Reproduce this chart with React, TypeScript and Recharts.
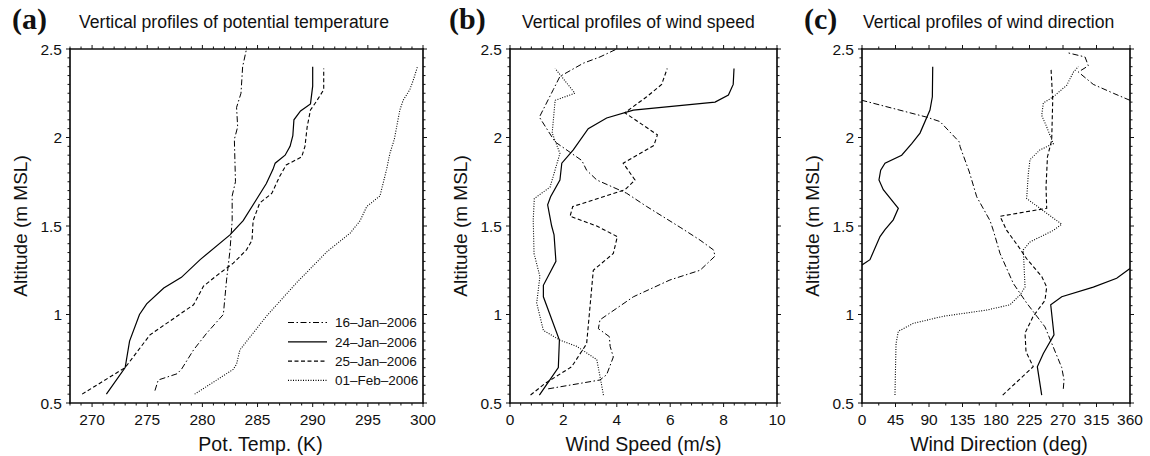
import React from 'react';
import { ScatterChart, Scatter, XAxis, YAxis, Legend } from 'recharts';

// [value, altitude] pairs, one list per sounding

// (a) potential temperature, K
const theta16Jan: [number, number][] = [
  [275.7, 0.57], [276.0, 0.63], [277.7, 0.665], [278.1, 0.69], [279.2, 0.8], [280.4, 0.895],
  [281.9, 1.0], [282.2, 1.2], [282.5, 1.36], [282.7, 1.53], [282.7, 1.67], [283.0, 1.75],
  [282.9, 1.99], [283.2, 2.06], [283.1, 2.17], [283.5, 2.25], [283.65, 2.4], [284.0, 2.5],
];
const theta24Jan: [number, number][] = [
  [271.3, 0.55], [273.0, 0.7], [273.4, 0.85], [274.3, 1.0], [274.95, 1.06], [276.5, 1.15],
  [278.1, 1.21], [279.8, 1.31], [282.5, 1.45], [283.7, 1.53], [284.9, 1.65], [285.8, 1.74],
  [286.4, 1.82], [286.6, 1.855], [287.5, 1.9], [287.95, 1.95], [288.2, 2.01], [288.3, 2.1],
  [288.9, 2.15], [289.8, 2.19], [290.0, 2.29], [290.0, 2.4],
];
const theta25Jan: [number, number][] = [
  [269.1, 0.55], [273.0, 0.7], [275.25, 0.885], [279.2, 1.055], [280.1, 1.16], [281.3, 1.22],
  [282.8, 1.29], [284.0, 1.365], [284.5, 1.42], [284.6, 1.53], [285.2, 1.63], [286.3, 1.685],
  [287.0, 1.78], [287.6, 1.845], [289.0, 1.89], [289.3, 1.95], [289.5, 2.06], [289.8, 2.155],
  [290.4, 2.21], [291.0, 2.27], [291.0, 2.39],
];
const theta01Feb: [number, number][] = [
  [279.3, 0.55], [282.8, 0.69], [283.1, 0.72], [283.4, 0.8], [285.8, 0.99], [288.55, 1.18],
  [291.3, 1.355], [293.4, 1.46], [294.3, 1.53], [294.9, 1.61], [296.1, 1.67], [296.7, 1.82],
  [297.0, 1.91], [297.4, 1.99], [297.9, 2.155], [298.2, 2.21], [298.8, 2.27], [299.1, 2.32],
  [299.5, 2.4],
];

// (b) wind speed, m/s
const speed16Jan: [number, number][] = [
  [1.43, 0.58], [3.37, 0.63], [3.62, 0.66], [3.87, 0.76], [3.75, 0.82], [3.72, 0.875],
  [3.31, 0.92], [3.37, 0.97], [4.62, 1.1], [5.99, 1.195], [7.12, 1.25], [7.68, 1.33],
  [7.62, 1.365], [7.12, 1.42], [6.4, 1.49], [5.12, 1.61], [4.37, 1.685], [3.25, 1.76],
  [2.87, 1.815], [2.69, 1.87], [1.69, 1.975], [1.1, 2.115], [1.62, 2.27], [1.87, 2.345],
  [2.75, 2.42], [3.37, 2.455], [4.0, 2.5],
];
const speed24Jan: [number, number][] = [
  [1.1, 0.545], [1.81, 0.7], [1.85, 0.855], [1.25, 1.1], [1.25, 1.165], [1.72, 1.3],
  [1.65, 1.45], [1.56, 1.5], [1.41, 1.62], [1.52, 1.665], [1.87, 1.76], [1.94, 1.855],
  [2.37, 1.93], [2.93, 2.05], [3.62, 2.11], [4.62, 2.155], [7.68, 2.2], [8.18, 2.24],
  [8.36, 2.3], [8.39, 2.39],
];
const speed25Jan: [number, number][] = [
  [0.77, 0.545], [1.31, 0.61], [2.31, 0.705], [2.87, 0.835], [2.97, 1.0], [3.12, 1.25],
  [3.87, 1.345], [4.02, 1.44], [3.25, 1.5], [2.25, 1.555], [2.35, 1.61], [4.31, 1.705],
  [4.68, 1.76], [4.24, 1.855], [5.39, 1.955], [5.52, 2.015], [4.3, 2.14], [5.12, 2.23],
  [5.68, 2.3], [5.89, 2.39],
];
const speed01Feb: [number, number][] = [
  [3.5, 0.545], [3.37, 0.65], [3.25, 0.745], [2.5, 0.82], [1.87, 0.855], [1.25, 0.91],
  [1.0, 1.065], [1.12, 1.215], [0.9, 1.345], [0.87, 1.535], [0.91, 1.655], [1.5, 1.72],
  [1.87, 1.91], [1.58, 2.025], [1.69, 2.21], [2.43, 2.25], [1.69, 2.39],
];

// (c) wind direction, deg (profiles that wrap past 360 are split in two)
const dir16JanLow: [number, number][] = [
  [270.4, 0.58], [271.4, 0.63], [268.3, 0.7], [245.8, 0.93], [221.2, 1.065], [203.3, 1.175],
  [185.4, 1.345], [176.4, 1.475], [172, 1.53], [154.1, 1.665], [144.2, 1.805], [131.6, 1.95],
  [130.7, 1.975], [104.8, 2.09], [86.9, 2.115], [0, 2.21],
];
const dir16JanHigh: [number, number][] = [
  [360, 2.21], [337.6, 2.25], [310.7, 2.3], [290.6, 2.37], [304, 2.405], [299.6, 2.455], [275, 2.48],
];
const dir24JanLow: [number, number][] = [
  [241.4, 0.545], [235.5, 0.705], [243.6, 0.78], [257.9, 0.885], [253.5, 1.055], [268.3, 1.1],
  [310.7, 1.155], [342.1, 1.205], [360, 1.26],
];
const dir24JanHigh: [number, number][] = [
  [0, 1.28], [10.7, 1.31], [24.2, 1.44], [30.9, 1.48], [42, 1.535], [48.8, 1.6], [28.6, 1.705],
  [22.8, 1.76], [25.1, 1.815], [30.9, 1.855], [53.3, 1.9], [66.8, 1.965], [77.9, 2.025],
  [91.3, 2.155], [94.5, 2.23], [95, 2.4],
];
const dir25Jan: [number, number][] = [
  [189, 0.545], [230, 0.705], [220.3, 0.79], [219, 0.895], [230, 0.99], [245.8, 1.08],
  [248.1, 1.155], [241.4, 1.215], [221.2, 1.315], [210, 1.385], [194.4, 1.475], [185.4, 1.555],
  [248.1, 1.6], [247.2, 1.72], [249.1, 1.89], [254.8, 1.985], [256.2, 2.21], [253.9, 2.39],
];
const dir01Feb: [number, number][] = [
  [44.3, 0.545], [45.7, 0.835], [48.8, 0.905], [68.9, 0.95], [109.2, 0.99], [167.5, 1.025],
  [198.8, 1.055], [212.2, 1.11], [219, 1.155], [216.7, 1.365], [225.7, 1.41], [257, 1.475],
  [268.3, 1.51], [221.2, 1.655], [223.4, 1.795], [225.7, 1.875], [239, 1.93], [257, 1.965],
  [248.1, 2.06], [241.4, 2.125], [243.6, 2.195], [257, 2.23], [275, 2.295], [284, 2.37], [290.6, 2.4],
];

const dates = ['16\u2013Jan\u20132006', '24\u2013Jan\u20132006', '25\u2013Jan\u20132006', '01\u2013Feb\u20132006'];

// axis ticks: labelled majors, unlabelled minors in between
const altMajor = [0.5, 1, 1.5, 2, 2.5];
const thetaMajor = [270, 275, 280, 285, 290, 295, 300];
const speedMajor = [0, 2, 4, 6, 8, 10];
const dirMajor = [0, 45, 90, 135, 180, 225, 270, 315, 360];

const steps = (from: number, to: number, step: number) => {
  const out: number[] = [];
  for (let i = 0; from + i * step <= to + 1e-9; i++) out.push(Math.round((from + i * step) * 1000) / 1000);
  return out;
};

const STYLE: Record<string, { dash?: string; width: number }> = {
  dashdot: { dash: '6 2.5 1.5 2.5', width: 1 },
  solid: { width: 1.2 },
  dashed: { dash: '4 2.5', width: 1.1 },
  dotted: { dash: '1 1.5', width: 1.1 },
};
const LEGEND_STYLES = ['dashdot', 'solid', 'dashed', 'dotted'];

const H = 456;
const PLOT_TOP = 49;
const PLOT_BOTTOM = 403;
const SANS = '"Liberation Sans", Arial, Helvetica, sans-serif';
const INK = '#111';

const toPoints = (rows: [number, number][]) => rows.map(([v, alt]) => ({ v, alt }));
const NoMark = () => <g />;

const fmt = (v: number) => String(Math.round(v * 100) / 100);

const makeTick = (side: 'top' | 'bottom' | 'left' | 'right', majors: number[], labelled: boolean) =>
  (props: any) => {
    const { x, y, payload } = props;
    const v = payload.value;
    const isMajor = majors.some((m) => Math.abs(m - v) < 1e-6);
    const len = isMajor ? 4 : 2.5;
    let line;
    if (side === 'bottom') line = <line x1={x} x2={x} y1={y} y2={y + len} stroke={INK} strokeWidth={1} />;
    else if (side === 'top') line = <line x1={x} x2={x} y1={y} y2={y - len} stroke={INK} strokeWidth={1} />;
    else if (side === 'left') line = <line x1={x} x2={x - len} y1={y} y2={y} stroke={INK} strokeWidth={1} />;
    else line = <line x1={x} x2={x + len} y1={y} y2={y} stroke={INK} strokeWidth={1} />;
    let label = null;
    if (labelled && isMajor) {
      if (side === 'bottom')
        label = (
          <text x={x} y={y + 22} textAnchor="middle" fontSize={15.5} fontFamily={SANS} fill={INK}>
            {fmt(v)}
          </text>
        );
      else if (side === 'left')
        label = (
          <text x={x - 8} y={y} dy="0.36em" textAnchor="end" fontSize={15.5} fontFamily={SANS} fill={INK}>
            {fmt(v)}
          </text>
        );
    }
    return (
      <g>
        {line}
        {label}
      </g>
    );
  };

type Series = { rows: [number, number][]; style: string };

interface PanelProps {
  left: number;
  leftW: number;
  plotW: number;
  rightW: number;
  domain: [number, number];
  majors: number[];
  minorStep: number;
  xLabel: string;
  xLabelShift?: number;
  series: Series[];
  legend?: boolean;
}

const AXIS = { stroke: INK, strokeWidth: 1.7, strokeLinecap: 'square' as const };

const renderLegend = () => (
  <svg width={150} height={80} style={{ display: 'block' }}>
    {dates.map((d, i) => {
      const s = STYLE[LEGEND_STYLES[i]];
      const cy = 10.5 + i * 19.3;
      return (
        <g key={d}>
          <line x1={2} x2={41} y1={cy} y2={cy} stroke="#000" strokeWidth={s.width} strokeDasharray={s.dash} />
          <text x={49} y={cy} dy="0.36em" fontSize={13.5} fontFamily={SANS} fill={INK}>
            {d}
          </text>
        </g>
      );
    })}
  </svg>
);

const ProfilePanel = ({ left, leftW, plotW, rightW, domain, majors, minorStep, xLabel, xLabelShift = 0, series, legend }: PanelProps) => {
  const width = leftW + plotW + rightW;
  const xTicks = steps(domain[0], domain[1], minorStep);
  const yTicks = steps(0.5, 2.5, 0.05);
  return (
    <div style={{ position: 'absolute', left, top: 0 }}>
      <ScatterChart width={width} height={H} margin={{ top: 0, right: 0, bottom: 0, left: 0 }}>
        <XAxis
          xAxisId="b"
          type="number"
          dataKey="v"
          domain={domain}
          allowDataOverflow
          ticks={xTicks}
          interval={0}
          tickLine={false}
          tickSize={0}
          tickMargin={0}
          axisLine={AXIS}
          tick={makeTick('bottom', majors, true)}
          height={H - PLOT_BOTTOM}
          label={{
            content: () => (
              <text x={leftW + plotW / 2 + xLabelShift} y={PLOT_BOTTOM + 48} textAnchor="middle" fontSize={19.5} fontFamily={SANS} fill={INK}>
                {xLabel}
              </text>
            ),
          }}
        />
        <XAxis
          xAxisId="t"
          orientation="top"
          type="number"
          dataKey="v"
          domain={domain}
          allowDataOverflow
          ticks={xTicks}
          interval={0}
          tickLine={false}
          tickSize={0}
          tickMargin={0}
          axisLine={AXIS}
          tick={makeTick('top', majors, false)}
          height={PLOT_TOP}
        />
        <YAxis
          yAxisId="l"
          type="number"
          dataKey="alt"
          domain={[0.5, 2.5]}
          allowDataOverflow
          ticks={yTicks}
          interval={0}
          tickLine={false}
          tickSize={0}
          tickMargin={0}
          axisLine={AXIS}
          tick={makeTick('left', altMajor, true)}
          width={leftW}
          label={{
            content: () => {
              const cx = leftW - 43;
              const cy = (PLOT_TOP + PLOT_BOTTOM) / 2;
              return (
                <text x={cx} y={cy} transform={`rotate(-90 ${cx} ${cy})`} textAnchor="middle" fontSize={19} fontFamily={SANS} fill={INK}>
                  Altitude (m MSL)
                </text>
              );
            },
          }}
        />
        <YAxis
          yAxisId="r"
          orientation="right"
          type="number"
          dataKey="alt"
          domain={[0.5, 2.5]}
          allowDataOverflow
          ticks={yTicks}
          interval={0}
          tickLine={false}
          tickSize={0}
          tickMargin={0}
          axisLine={AXIS}
          tick={makeTick('right', altMajor, false)}
          width={rightW}
        />
        {series.map((s, i) => {
          const st = STYLE[s.style];
          return (
            <Scatter
              key={i}
              name={`${s.style}-${i}`}
              data={toPoints(s.rows)}
              xAxisId="b"
              yAxisId="l"
              fill="#000"
              line={{ stroke: '#000', strokeWidth: st.width, strokeDasharray: st.dash }}
              lineType="joint"
              lineJointType="linear"
              shape={NoMark}
              isAnimationActive={false}
            />
          );
        })}
        {legend && (
          <Legend
            layout="vertical"
            align="center"
            verticalAlign="middle"
            content={renderLegend}
            wrapperStyle={{ left: 286, top: 312, width: 150, height: 80 }}
          />
        )}
      </ScatterChart>
    </div>
  );
};

const titles = [
  { tag: '(a)', tagX: 12, text: 'Vertical profiles of potential temperature', textX: 79 },
  { tag: '(b)', tagX: 449, text: 'Vertical profiles of wind speed', textX: 522 },
  { tag: '(c)', tagX: 804, text: 'Vertical profiles of wind direction', textX: 863 },
];

export default function App() {
  return (
    <div style={{ position: 'absolute', left: 0, top: 0, width: 1150, height: H, background: '#fff', overflow: 'hidden' }}>
      <ProfilePanel
        left={0}
        leftW={70}
        plotW={353}
        rightW={17}
        domain={[268, 300]}
        majors={thetaMajor}
        minorStep={1}
        xLabel="Pot. Temp. (K)"
        xLabelShift={14}
        legend
        series={[
          { rows: theta16Jan, style: 'dashdot' },
          { rows: theta24Jan, style: 'solid' },
          { rows: theta25Jan, style: 'dashed' },
          { rows: theta01Feb, style: 'dotted' },
        ]}
      />
      <ProfilePanel
        left={440}
        leftW={70}
        plotW={267}
        rightW={13}
        domain={[0, 10]}
        majors={speedMajor}
        minorStep={0.4}
        xLabel="Wind Speed (m/s)"
        series={[
          { rows: speed16Jan, style: 'dashdot' },
          { rows: speed24Jan, style: 'solid' },
          { rows: speed25Jan, style: 'dashed' },
          { rows: speed01Feb, style: 'dotted' },
        ]}
      />
      <ProfilePanel
        left={790}
        leftW={72}
        plotW={268}
        rightW={20}
        domain={[0, 360]}
        majors={dirMajor}
        minorStep={22.5}
        xLabel="Wind Direction (deg)"
        xLabelShift={3}
        series={[
          { rows: dir16JanLow, style: 'dashdot' },
          { rows: dir16JanHigh, style: 'dashdot' },
          { rows: dir24JanLow, style: 'solid' },
          { rows: dir24JanHigh, style: 'solid' },
          { rows: dir25Jan, style: 'dashed' },
          { rows: dir01Feb, style: 'dotted' },
        ]}
      />
      <svg width={1150} height={40} style={{ position: 'absolute', left: 0, top: 0, pointerEvents: 'none' }}>
        {titles.map((t) => (
          <g key={t.tag}>
            <text x={t.tagX} y={29} fontSize={30} fontWeight="bold" fontFamily='"Liberation Serif", "Times New Roman", serif' fill={INK}>
              {t.tag}
            </text>
            <text x={t.textX} y={28} fontSize={17.6} fontFamily={SANS} fill={INK}>
              {t.text}
            </text>
          </g>
        ))}
      </svg>
    </div>
  );
}
